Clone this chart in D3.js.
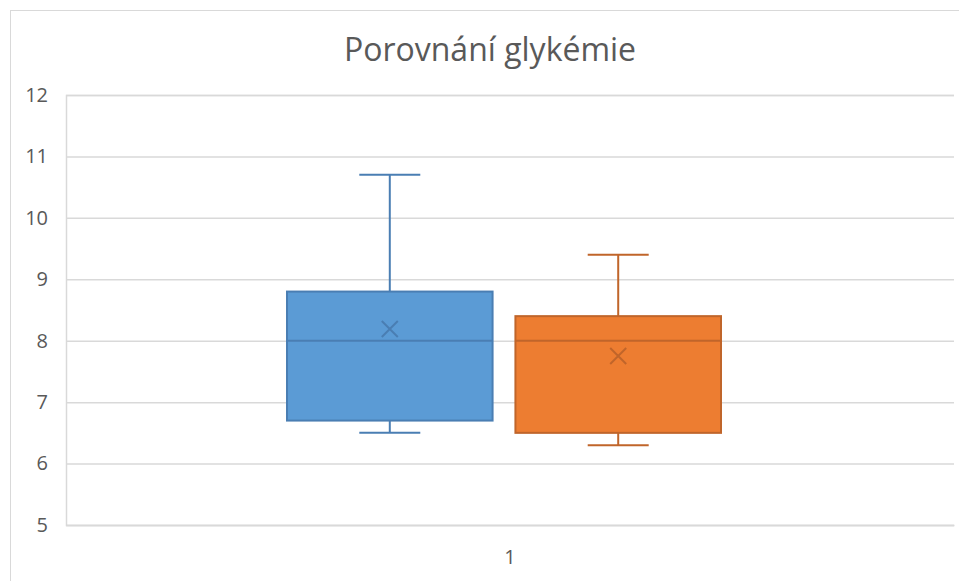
<!DOCTYPE html>
<html>
<head>
<meta charset="utf-8">
<script src="https://cdn.jsdelivr.net/npm/d3@7"></script>
<style>
  html, body { margin: 0; padding: 0; background: #fff; }
  svg { display: block; font-family: "Open Sans", "Noto Sans", sans-serif; }
</style>
</head>
<body>
<svg id="chart" width="959" height="581"></svg>
<script>
// Box-and-whisker summary of two glycaemia series
const categories = ["1"];
const seriesNames = ["Série 1", "Série 2"];
const whiskerLow  = [6.5, 6.3];
const q1          = [6.7, 6.5];
const median      = [8.0, 8.0];
const q3          = [8.8, 8.4];
const whiskerHigh = [10.7, 9.4];
const mean        = [8.19, 7.75];
const yTicks = [5, 6, 7, 8, 9, 10, 11, 12];

const fills   = ["#5B9BD5", "#ED7D31"];
const strokes = ["#4A7EB3", "#C0652A"];
const FONT = "'Open Sans', 'Noto Sans', sans-serif";

const svg = d3.select("#chart");
const plot = { left: 66, right: 954, top: 95, bottom: 525 };

// chart frame
svg.append("rect")
  .attr("x", 10.5).attr("y", 10.5)
  .attr("width", 980).attr("height", 600)
  .attr("fill", "#fff").attr("stroke", "#D9D9D9").attr("stroke-width", 1);

// title
svg.append("text")
  .attr("x", 490).attr("y", 61)
  .attr("text-anchor", "middle")
  .attr("font-family", FONT)
  .attr("font-size", 32)
  .attr("fill", "#595959")
  .text("Porovnání glykémie");

const y = d3.scaleLinear().domain([5, 12]).range([plot.bottom, plot.top]);
const x = d3.scaleBand().domain(categories).range([plot.left, plot.right]);
// boxes sit inside the category band
const xs = d3.scaleBand().domain(seriesNames).range([287, 721]).paddingInner(0.1);

// gridlines and value axis
const yAxis = d3.axisLeft(y).tickValues(yTicks).tickFormat(d3.format("d"))
  .tickSize(-(plot.right - plot.left)).tickPadding(18);
const gy = svg.append("g").attr("transform", `translate(${plot.left},0)`).call(yAxis);
gy.select(".domain").attr("stroke", "#D9D9D9").attr("stroke-width", 1.5);
gy.selectAll(".tick line").attr("stroke", "#D9D9D9").attr("stroke-width", 1.5);
gy.selectAll(".tick text")
  .attr("font-size", 20).attr("fill", "#595959").attr("font-family", FONT);

// category axis
const xAxis = d3.axisBottom(x).tickSize(0).tickPadding(25);
const gx = svg.append("g").attr("transform", `translate(0,${plot.bottom})`).call(xAxis);
gx.select(".domain").attr("stroke", "#D9D9D9").attr("stroke-width", 1.5);
gx.selectAll(".tick text")
  .attr("font-size", 20).attr("fill", "#595959").attr("font-family", FONT);

const capW = 61;
seriesNames.forEach((s, i) => {
  const g = svg.append("g");
  const bx = xs(s), bw = xs.bandwidth(), cx = bx + bw / 2;
  const col = strokes[i];
  // whiskers
  g.append("line").attr("x1", cx).attr("x2", cx).attr("y1", y(q3[i])).attr("y2", y(whiskerHigh[i]))
    .attr("stroke", col).attr("stroke-width", 2);
  g.append("line").attr("x1", cx).attr("x2", cx).attr("y1", y(q1[i])).attr("y2", y(whiskerLow[i]))
    .attr("stroke", col).attr("stroke-width", 2);
  g.append("line").attr("x1", cx - capW / 2).attr("x2", cx + capW / 2)
    .attr("y1", y(whiskerHigh[i])).attr("y2", y(whiskerHigh[i]))
    .attr("stroke", col).attr("stroke-width", 2);
  g.append("line").attr("x1", cx - capW / 2).attr("x2", cx + capW / 2)
    .attr("y1", y(whiskerLow[i])).attr("y2", y(whiskerLow[i]))
    .attr("stroke", col).attr("stroke-width", 2);
  // box
  g.append("rect")
    .attr("x", bx).attr("width", bw)
    .attr("y", y(q3[i])).attr("height", y(q1[i]) - y(q3[i]))
    .attr("fill", fills[i]).attr("stroke", col).attr("stroke-width", 2);
  // median
  g.append("line").attr("x1", bx).attr("x2", bx + bw)
    .attr("y1", y(median[i])).attr("y2", y(median[i]))
    .attr("stroke", col).attr("stroke-width", 2);
  // mean marker
  const m = 8, my = y(mean[i]);
  g.append("path")
    .attr("d", `M${cx - m},${my - m}L${cx + m},${my + m}M${cx - m},${my + m}L${cx + m},${my - m}`)
    .attr("stroke", col).attr("stroke-width", 2).attr("fill", "none");
});
</script>
</body>
</html>
